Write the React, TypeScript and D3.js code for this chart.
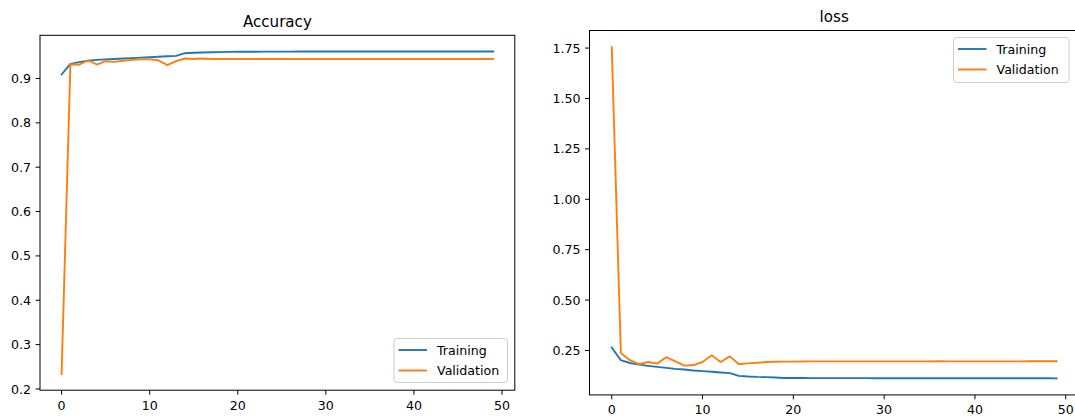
import React from "react";
import * as d3 from "d3";

const epochs: number[] = Array.from({ length: 50 }, (_, i) => i);

const accTraining: number[] = [
  0.909, 0.933, 0.937, 0.940, 0.942, 0.943, 0.944, 0.945, 0.946, 0.947,
  0.948, 0.949, 0.950, 0.951, 0.957, 0.958, 0.9585, 0.959, 0.9595, 0.960,
  0.9602, 0.9603, 0.9604, 0.9605, 0.9605, 0.9606, 0.9606, 0.9607, 0.9607, 0.9607,
  0.9608, 0.9608, 0.9608, 0.9608, 0.9609, 0.9609, 0.9609, 0.9609, 0.9609, 0.961,
  0.961, 0.961, 0.961, 0.961, 0.961, 0.961, 0.961, 0.961, 0.961, 0.961,
];
const accValidation: number[] = [
  0.2336, 0.932, 0.931, 0.941, 0.9315, 0.939, 0.9375, 0.940, 0.942, 0.943,
  0.943, 0.941, 0.930, 0.939, 0.945, 0.944, 0.945, 0.944, 0.944, 0.944,
  0.944, 0.944, 0.9438, 0.944, 0.944, 0.944, 0.944, 0.944, 0.944, 0.944,
  0.944, 0.944, 0.944, 0.944, 0.944, 0.944, 0.944, 0.944, 0.944, 0.944,
  0.944, 0.944, 0.944, 0.944, 0.944, 0.944, 0.944, 0.944, 0.944, 0.944,
];
const lossTraining: number[] = [
  0.265, 0.202, 0.188, 0.180, 0.174, 0.169, 0.164, 0.159, 0.156, 0.151,
  0.148, 0.145, 0.141, 0.138, 0.124, 0.121, 0.119, 0.118, 0.116, 0.114,
  0.1135, 0.1133, 0.1132, 0.1131, 0.113, 0.113, 0.113, 0.113, 0.1129, 0.1128,
  0.1128, 0.1127, 0.1127, 0.1126, 0.1126, 0.1125, 0.1125, 0.1125, 0.1124, 0.1124,
  0.1124, 0.1123, 0.1123, 0.1123, 0.1122, 0.1122, 0.1122, 0.1121, 0.1121, 0.112,
];
const lossValidation: number[] = [
  1.755, 0.238, 0.202, 0.182, 0.193, 0.185, 0.217, 0.196, 0.175, 0.178,
  0.193, 0.226, 0.193, 0.221, 0.182, 0.186, 0.189, 0.193, 0.194, 0.195,
  0.195, 0.1955, 0.196, 0.196, 0.196, 0.196, 0.196, 0.196, 0.196, 0.196,
  0.196, 0.196, 0.196, 0.196, 0.196, 0.196, 0.1965, 0.196, 0.196, 0.196,
  0.196, 0.196, 0.196, 0.196, 0.196, 0.196, 0.1965, 0.197, 0.197, 0.197,
];

const xTicks: number[] = [0, 10, 20, 30, 40, 50];
const accTicks: number[] = [0.2, 0.3, 0.4, 0.5, 0.6, 0.7, 0.8, 0.9];
const lossTicks: number[] = [0.25, 0.5, 0.75, 1.0, 1.25, 1.5, 1.75];
const seriesNames: string[] = ["Training", "Validation"];
const colors: string[] = ["#1f77b4", "#ff7f0e"];

const FONT = "'DejaVu Sans', sans-serif";
const TICK_FS = 12.6;
const TITLE_FS = 15.1;
const TICK_LEN = 4.4;
const LW = 1.9;
const SPINE = 1.0;

function padDomain(vals: number[]): [number, number] {
  const lo = d3.min(vals) as number;
  const hi = d3.max(vals) as number;
  const m = (hi - lo) * 0.05;
  return [lo - m, hi + m];
}

type PanelProps = {
  title: string;
  box: { x0: number; x1: number; y0: number; y1: number };
  series: number[][];
  yTicks: number[];
  yFmt: (v: number) => string;
  titleY: number;
  legend: { x: number; y: number; w: number; h: number };
};

function Panel({ title, box, series, yTicks, yFmt, titleY, legend }: PanelProps) {
  const xd = padDomain(epochs);
  const x = d3.scaleLinear().domain(xd).range([box.x0, box.x1]);
  const y = d3.scaleLinear().domain(padDomain(series.flat())).range([box.y1, box.y0]);
  const line = d3
    .line<number>()
    .x((_, i) => x(epochs[i]))
    .y((d) => y(d));
  const clipId = "clip-" + title;
  return (
    <g>
      <defs>
        <clipPath id={clipId}>
          <rect x={box.x0} y={box.y0} width={box.x1 - box.x0} height={box.y1 - box.y0} />
        </clipPath>
      </defs>
      <text x={(box.x0 + box.x1) / 2} y={titleY} textAnchor="middle" fontSize={TITLE_FS} fontFamily={FONT} fill="#000">
        {title}
      </text>
      <g clipPath={`url(#${clipId})`}>
        {series.map((s, k) => (
          <path key={k} d={line(s) || ""} fill="none" stroke={colors[k]} strokeWidth={LW} strokeLinejoin="round" strokeLinecap="square" />
        ))}
      </g>
      <rect x={box.x0} y={box.y0} width={box.x1 - box.x0} height={box.y1 - box.y0} fill="none" stroke="#000" strokeWidth={SPINE} />
      {xTicks.map((t) => (
        <g key={"x" + t}>
          <line x1={x(t)} x2={x(t)} y1={box.y1} y2={box.y1 + TICK_LEN} stroke="#000" strokeWidth={SPINE} />
          <text x={x(t)} y={box.y1 + 19.5} textAnchor="middle" fontSize={TICK_FS} fontFamily={FONT} fill="#000">
            {t}
          </text>
        </g>
      ))}
      {yTicks.map((t) => (
        <g key={"y" + t}>
          <line x1={box.x0 - TICK_LEN} x2={box.x0} y1={y(t)} y2={y(t)} stroke="#000" strokeWidth={SPINE} />
          <text x={box.x0 - 9} y={y(t)} dy="0.36em" textAnchor="end" fontSize={TICK_FS} fontFamily={FONT} fill="#000">
            {yFmt(t)}
          </text>
        </g>
      ))}
      <g>
        <rect x={legend.x} y={legend.y} width={legend.w} height={legend.h} rx={3} fill="#fff" fillOpacity={0.8} stroke="#cccccc" strokeWidth={1} />
        {seriesNames.map((n, k) => {
          const cy = legend.y + 11.5 + k * 20.5;
          return (
            <g key={n}>
              <line x1={legend.x + 4.5} x2={legend.x + 33} y1={cy} y2={cy} stroke={colors[k]} strokeWidth={LW} />
              <text x={legend.x + 43} y={cy} dy="0.36em" fontSize={TICK_FS} fontFamily={FONT} fill="#000">
                {n}
              </text>
            </g>
          );
        })}
      </g>
    </g>
  );
}

export default function App() {
  return (
    <svg width={1075} height={419} style={{ position: "absolute", left: 0, top: 0, background: "#fff" }}>
      <rect x={0} y={0} width={1075} height={419} fill="#fff" />
      <Panel
        title="Accuracy"
        box={{ x0: 40, x1: 514.8, y0: 35.3, y1: 390.2 }}
        series={[accTraining, accValidation]}
        yTicks={accTicks}
        yFmt={(v) => d3.format(".1f")(v)}
        titleY={26.5}
        legend={{ x: 394, y: 338.5, w: 113.5, h: 44 }}
      />
      <Panel
        title="loss"
        box={{ x0: 589.5, x1: 1078.9, y0: 30.5, y1: 394.9 }}
        series={[lossTraining, lossValidation]}
        yTicks={lossTicks}
        yFmt={(v) => d3.format(".2f")(v)}
        titleY={21.5}
        legend={{ x: 953.5, y: 37.5, w: 115.5, h: 45 }}
      />
    </svg>
  );
}
